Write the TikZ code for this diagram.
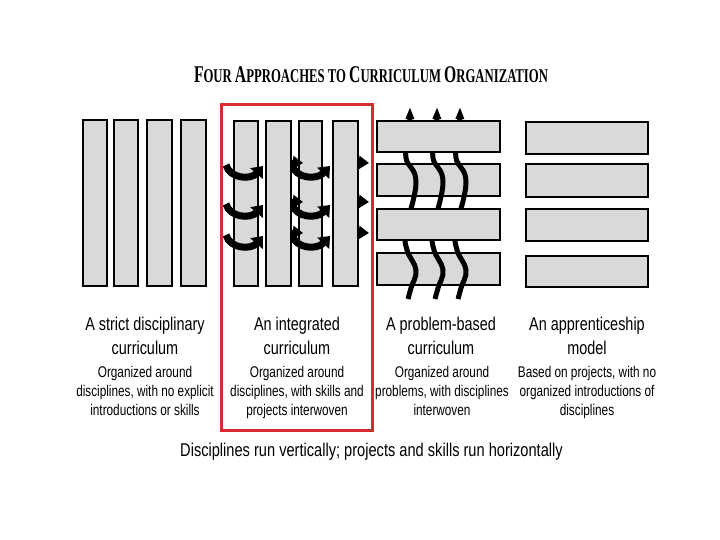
\documentclass[tikz,border=0pt]{standalone}
\usepackage{fontspec}
\usepackage{graphicx}
\setmainfont{Liberation Serif}
\newfontfamily\labh[FakeStretch=0.78]{Liberation Sans}
\newfontfamily\labd[FakeStretch=0.76]{Liberation Sans}
\newfontfamily\labf[FakeStretch=0.79]{Liberation Sans}
\usetikzlibrary{arrows.meta}
\definecolor{barfill}{RGB}{217,217,217}
\definecolor{redbox}{RGB}{213,43,50}
\newcommand{\tbig}[1]{{\fontsize{24}{24}\selectfont #1}}
\begin{document}
\begin{tikzpicture}[x=1pt,y=-1pt,
  bar/.style={draw=black,fill=barfill,line width=1.5pt},
  swoosh/.style={line width=7pt,draw=black,-{Triangle[length=10pt,width=16pt]}},
  tipa/.style={line width=5pt,draw=black,-{Triangle[length=10pt,width=13pt]}},
  wave/.style={line width=5pt,draw=black,-{Triangle[length=12pt,width=8pt]}},
  head/.style={font=\labh\fontsize{18.5}{22}\selectfont,anchor=base,inner sep=0pt},
  desc/.style={font=\labd\fontsize{15.5}{18}\selectfont,anchor=base,inner sep=0pt}]
\useasboundingbox (0,0) rectangle (720,540);
\fill[white] (0,0) rectangle (720,540);

% title
\node[anchor=base,inner sep=0pt] (title) at (371,83) {\resizebox{354pt}{\height}{\bfseries\fontsize{19.5}{24}\selectfont
 \tbig{F}OUR \tbig{A}PPROACHES TO \tbig{C}URRICULUM \tbig{O}RGANIZATION}};

% panel 1: strict disciplinary
\foreach \xa/\xb in {83/107,114/138,147/172,181/206}
  \draw[bar] (\xa,120) rectangle (\xb,286);

% panel 2: integrated
\draw[bar] (234,121) rectangle (258,286);
\draw[bar] (299,121) rectangle (322,286);
\foreach \b in {177,216,247}{
  \draw[swoosh] (226,\b-12) .. controls (230,\b+2) and (251,\b+3) .. (263,\b-11);
  \draw[swoosh] (292,\b-12) .. controls (296,\b+2) and (317,\b+3) .. (330,\b-11);
  \draw[tipa] (284,\b-15) -- (303,\b-14);
  \draw[tipa] (350,\b-15) -- (369,\b-14);
}
\draw[bar] (266,121) rectangle (291,286);
\draw[bar] (333,121) rectangle (358,286);
\draw[redbox,line width=3pt] (221,105) rectangle (372,430);

% panel 3: problem-based
\draw[bar] (377,164) rectangle (500,196);
\draw[bar] (377,253) rectangle (500,285);
\foreach \x in {410,437,460}{
  \draw[wave] plot[smooth,tension=0.7] coordinates {(\x-2,299) (\x+1,288) (\x+6,270) (\x-3,250) (\x-4,230) (\x+6,182) (\x-4,158) (\x-1,135) (\x,107)};
}
\draw[bar] (377,121) rectangle (500,152);
\draw[bar] (377,209) rectangle (500,240);

% panel 4: apprenticeship
\foreach \ya/\yb in {122/154,164/197,209/241,256/287}
  \draw[bar] (526,\ya) rectangle (648,\yb);

% labels
\node[head] (h1a) at (145,330) {A strict disciplinary};
\node[head] (h1b) at (145,354) {curriculum};
\node[desc] (d1a) at (145,377) {Organized around};
\node[desc] (d1b) at (145,396) {disciplines, with no explicit};
\node[desc] (d1c) at (145,415) {introductions or skills};

\node[head] (h2a) at (297,330) {An integrated};
\node[head] (h2b) at (297,354) {curriculum};
\node[desc] (d2a) at (297,377) {Organized around};
\node[desc] (d2b) at (297,396) {disciplines, with skills and};
\node[desc] (d2c) at (297,415) {projects interwoven};

\node[head] (h3a) at (441,330) {A problem-based};
\node[head] (h3b) at (441,354) {curriculum};
\node[desc] (d3a) at (442,377) {Organized around};
\node[desc] (d3b) at (442,396) {problems, with disciplines};
\node[desc] (d3c) at (442,415) {interwoven};

\node[head] (h4a) at (587,330) {An apprenticeship};
\node[head] (h4b) at (587,354) {model};
\node[desc] (d4a) at (587,377) {Based on projects, with no};
\node[desc] (d4b) at (587,396) {organized introductions of};
\node[desc] (d4c) at (587,415) {disciplines};

\node[anchor=base,inner sep=0pt,font=\labf\fontsize{18.5}{22}\selectfont] (foot) at (371.5,456)
  {Disciplines run vertically; projects and skills run horizontally};
\end{tikzpicture}
\end{document}
